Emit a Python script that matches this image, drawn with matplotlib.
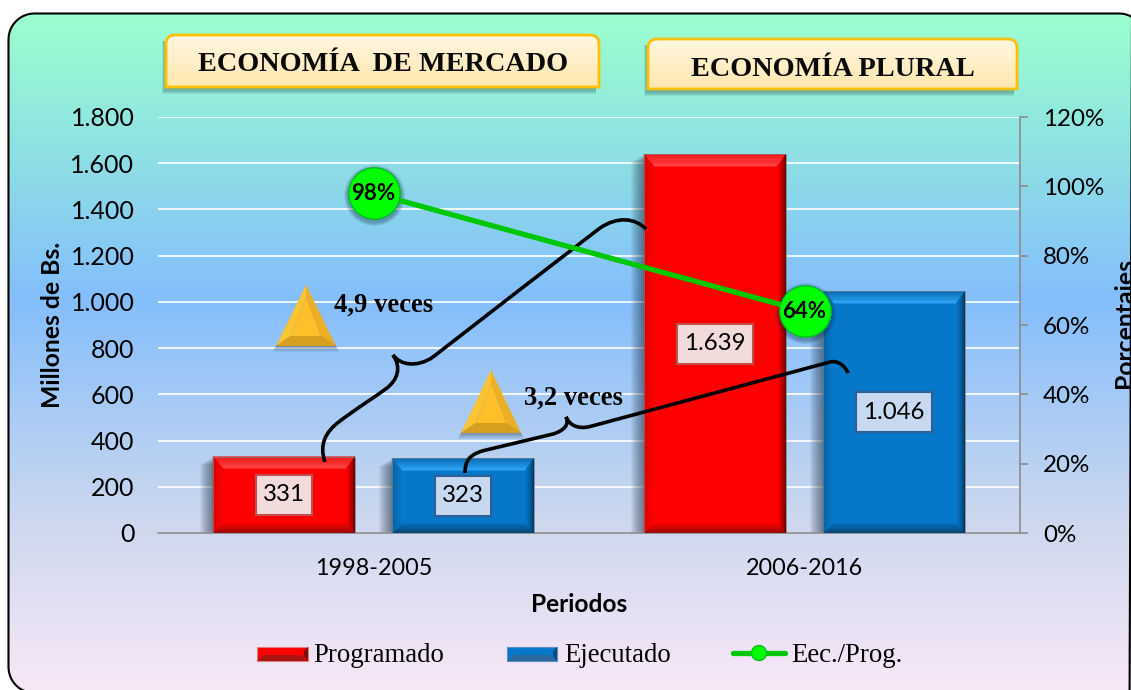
import numpy as np
import matplotlib
matplotlib.use("Agg")
import matplotlib.pyplot as plt
from matplotlib.colors import LinearSegmentedColormap, to_rgb
from matplotlib.patches import PathPatch, Polygon, Rectangle, Circle
from matplotlib.path import Path

# data
periodos = ['1998-2005', '2006-2016']
programado = [331, 1639]
ejecutado = [323, 1046]
porcentaje = [98, 64]
y_ticks = [0, 200, 400, 600, 800, 1000, 1200, 1400, 1600, 1800]
y_labels = ['0', '200', '400', '600', '800', '1.000', '1.200', '1.400', '1.600', '1.800']
pct_ticks = [0, 20, 40, 60, 80, 100, 120]
prog_labels = ['331', '1.639']
ejec_labels = ['323', '1.046']

W, H = 1131, 690
SANS = 'Lato'
SERIF = 'Liberation Serif'

fig = plt.figure(figsize=(W / 100, H / 100), dpi=100, facecolor='white')


def px_axes(zorder):
    a = fig.add_axes([0, 0, 1, 1], zorder=zorder)
    a.set_xlim(0, W)
    a.set_ylim(H, 0)
    a.axis('off')
    return a


def vgrad(a, stops, x0, x1, y0, y1, clip):
    cmap = LinearSegmentedColormap.from_list('g', stops)
    img = a.imshow(np.linspace(0, 1, 256)[:, None], cmap=cmap, aspect='auto',
                   extent=[x0, x1, y1, y0], zorder=clip.get_zorder())
    img.set_clip_path(clip)
    a.set_xlim(0, W)
    a.set_ylim(H, 0)


def round_rect(x0, y0, x1, y1, r):
    # polyline, the curved version of this drew badly past the canvas edge
    pts = []
    for cx, cy, start in [(x0 + r, y0 + r, 180), (x1 - r, y0 + r, 270), (x1 - r, y1 - r, 0), (x0 + r, y1 - r, 90)]:
        ang = np.radians(np.linspace(start, start + 90, 16))
        pts += list(zip(cx + r * np.cos(ang), cy + r * np.sin(ang)))
    return pts


# background panel
bg = px_axes(0)
outline = round_rect(8.5, 13.5, 1145, 693, 26)
clip = Polygon(outline, closed=True, fc='none', ec='none', zorder=1)
bg.add_patch(clip)
vgrad(bg, [(0, '#9CFFCE'), (0.17, '#90E6E0'), (0.42, '#84BEFC'),
           (0.75, '#CDD8EE'), (1, '#F9E8F8')], 8, 1145, 13, 693, clip)
bg.add_patch(Polygon(outline, closed=True, fc='none', ec='black', lw=1.5, zorder=3))

# main axes
ax = fig.add_axes([158 / W, 1 - 533 / H, 862 / W, 416 / H], zorder=1)
ax.patch.set_visible(False)
ax.set_xlim(-0.5, 1.5)
ax.set_ylim(0, 1800)
ax.set_yticks(y_ticks, y_labels, fontsize=18, family=SANS)
ax.set_xticks([0, 1], periodos, fontsize=16.8, family=SANS)
ax.tick_params(axis='y', length=0, pad=17)
ax.tick_params(axis='x', length=0, pad=18)
ax.grid(axis='y', color='white', lw=1.2)
ax.set_axisbelow(True)
for s in ['top', 'left', 'right']:
    ax.spines[s].set_visible(False)
ax.spines['bottom'].set_color('#8C8C8C')
ax.spines['bottom'].set_linewidth(1.2)

xpx = 2 / 862
ypx = 1800 / 416


def mix(c1, c2, t):
    return np.array(to_rgb(c1)) * (1 - t) + np.array(to_rgb(c2)) * t


def bevel_bar(x, v, w, base, edges, inner_top, inner_bot):
    bar = ax.bar(x, v, w, color=base, zorder=3)[0]
    x0, x1 = bar.get_x(), bar.get_x() + bar.get_width()
    y0, y1 = 0, bar.get_height()
    # shadow falls to the left of the bar
    for i in range(13, 0, -1):
        ax.add_patch(Rectangle((x0 - i * xpx, y0), i * xpx + 0.01, y1 - i * ypx * 0.6,
                               fc='#203040', ec='none', alpha=0.05, zorder=2.5))

    def box(t):
        return x0 + t * 10 * xpx, x1 - t * 9 * xpx, y0 + t * 9 * ypx, y1 - t * 12 * ypx

    n = 10
    for i in range(n):
        a0, a1, c0, c1 = box(i / n)
        e0, e1, f0, f1 = box((i + 1) / n)
        t = (i + 1) / n
        top = mix(edges[0], inner_top, t)
        right = mix(edges[1], base, t ** 0.6)
        bot = mix(edges[2], inner_bot, t ** 0.7)
        left = mix(edges[3], base, t)
        ax.add_patch(Polygon([(a0, c1), (a1, c1), (e1, f1), (e0, f1)], fc=top, ec=top, lw=0.2, zorder=3.1))
        ax.add_patch(Polygon([(a1, c1), (a1, c0), (e1, f0), (e1, f1)], fc=right, ec=right, lw=0.2, zorder=3.1))
        ax.add_patch(Polygon([(a0, c0), (a1, c0), (e1, f0), (e0, f0)], fc=bot, ec=bot, lw=0.2, zorder=3.1))
        ax.add_patch(Polygon([(a0, c1), (a0, c0), (e0, f0), (e0, f1)], fc=left, ec=left, lw=0.2, zorder=3.1))
    ax.add_patch(Rectangle((x0, y0), x1 - x0, y1, fc='none', ec='#808080', lw=0.7, alpha=0.7, zorder=3.2))


def value_box(x, v, txt, fc, ec):
    w = (56 if len(txt) == 3 else 76) * xpx
    h = 40 * ypx
    ax.add_patch(Rectangle((x - w / 2, v / 2 - h / 2), w, h, fc=fc, ec=ec, lw=1.5, zorder=4.5))
    ax.text(x, v / 2, txt, ha='center', va='center', fontsize=17.3, family=SANS, zorder=5)


offs = 89.5 / 431
bw = 142 / 431
for i in range(len(periodos)):
    bevel_bar(i - offs, programado[i], bw, '#FF0000',
              ['#F01818', '#200000', '#701010', '#D80000'], '#FF4444', '#E80000')
    bevel_bar(i + offs, ejecutado[i], bw, '#0677C9',
              ['#0568AE', '#001C34', '#07355C', '#04629F'], '#2FA5F7', '#0566AB')
    value_box(i - offs, programado[i], prog_labels[i], '#F2DCDB', '#C0504D')
    value_box(i + offs, ejecutado[i], ejec_labels[i], '#C6D9F1', '#2F5F95')

ax.set_xlabel('Periodos', fontsize=17.6, family=SANS, fontweight='bold', va='center')
ax.xaxis.set_label_coords(421 / 862, -72 / 416)
ax.set_ylabel('Millones de Bs.', fontsize=17.8, family=SANS, fontweight='bold')
ax.yaxis.set_label_coords(-94 / 862, 0.5)

# percentage axis
ax2 = ax.twinx()
ax2.set_zorder(3)
ax2.patch.set_visible(False)
ax2.set_ylim(0, 120)
ax2.set_yticks(pct_ticks, [f'{p}%' for p in pct_ticks], fontsize=17.4, family=SANS)
ax2.tick_params(axis='y', length=6, width=1.2, color='#8C8C8C', pad=10.5)
for s in ['top', 'left', 'bottom']:
    ax2.spines[s].set_visible(False)
ax2.spines['right'].set_color('#8C8C8C')
ax2.spines['right'].set_linewidth(1.2)
ax2.set_ylabel('Porcentajes', fontsize=17.8, family=SANS, fontweight='bold')
ax2.yaxis.set_label_coords(1 + 93 / 862, 0.505)

xs = list(range(len(periodos)))
for i in range(6, 0, -1):
    ax2.plot(xs, [p - 0.55 for p in porcentaje], ls='none', marker='o', ms=38 + i,
             mfc='#103040', mec='none', alpha=0.07, zorder=3)
ax2.plot(xs, porcentaje, color='#00C800', lw=3.8, marker='o', ms=37, mfc='#00FF00',
         mec='#00BE20', mew=1.0, zorder=4)
for x, p in zip(xs, porcentaje):
    ax2.text(x, p, f'{p}%', ha='center', va='center', fontsize=16, family=SANS,
             fontweight='bold', zorder=5)

# overlay: title boxes, triangles, braces, legend
ov = px_axes(2)


def title_box(x0, y0, x1, y1, txt, tx, ty):
    r = 9
    verts = [(x0, y1), (x0, y0 + r), (x0, y0), (x0 + r, y0), (x1 - r, y0), (x1, y0), (x1, y0 + r), (x1, y1), (x0, y1)]
    codes = [Path.MOVETO, Path.LINETO, Path.CURVE3, Path.CURVE3, Path.LINETO, Path.CURVE3, Path.CURVE3,
             Path.LINETO, Path.CLOSEPOLY]
    for i in range(6, 0, -1):
        ov.add_patch(Rectangle((x0 - i * 0.7, y0 + 6), x1 - x0 - 3 + i * 0.7, y1 - y0 - 6 + i * 1.2,
                               fc='#1F4F50', ec='none', alpha=0.1, zorder=1))
    fill = PathPatch(Path(verts, codes), fc='none', ec='none', zorder=2)
    ov.add_patch(fill)
    vgrad(ov, [(0, '#FFF6E2'), (1, '#FFE7AC')], x0, x1, y0, y1, fill)
    ov.add_patch(PathPatch(Path(verts, codes), fc='none', ec='#FFC000', lw=2, zorder=3))
    ov.text(tx, ty, txt, ha='center', va='center', family=SERIF, fontweight='bold',
            fontsize=20.3, color='#0A0A0A', zorder=4)


title_box(166, 35, 599, 87, 'ECONOMÍA  DE MERCADO', 383, 64.5)
title_box(648, 39, 1017, 89, 'ECONOMÍA PLURAL', 833, 70)


def triangle(cx, top, bottom, half):
    left, right = cx - half, cx + half
    inner = [(cx, top + 13), (cx - 15, bottom - 10), (cx + 15, bottom - 10)]
    for i in range(6, 0, -1):
        ov.add_patch(Polygon([(cx, top + 4), (right + i * 0.5, bottom + i), (left - i * 0.5, bottom + i)],
                             fc='#203040', ec='none', alpha=0.07, zorder=1))
    ov.add_patch(Polygon([(cx, top), (left, bottom), inner[1], inner[0]], fc='#FBC433', ec='none', zorder=2))
    ov.add_patch(Polygon([(cx, top), (right, bottom), inner[2], inner[0]], fc='#EDB024', ec='none', zorder=2))
    ov.add_patch(Polygon([(left, bottom), (right, bottom), inner[2], inner[1]], fc='#D89E1E', ec='none', zorder=2))
    ov.add_patch(Polygon(inner, fc='#FDC02A', ec='none', zorder=2.1))


triangle(306, 285, 346, 30)
triangle(491, 370, 433, 30)
ov.text(384, 305, '4,9 veces', ha='center', va='center', family=SERIF, fontweight='bold', fontsize=19.2, zorder=4)
ov.text(573, 398, '3,2 veces', ha='center', va='center', family=SERIF, fontweight='bold', fontsize=19.2, zorder=4)

C4 = Path.CURVE4
brace1 = Path([(325, 462), (319, 445), (325, 432), (340, 421),
               (360, 406), (375, 397), (387, 388), (397, 380), (402, 368), (393, 355),
               (400, 365), (417, 368), (433, 357),
               (490, 313), (545, 270), (600, 228), (618, 216), (635, 218), (646, 229)],
              [Path.MOVETO, C4, C4, Path.LINETO, C4, C4, C4, C4, C4, C4, C4, C4, C4,
               C4, C4, C4, C4, C4, C4])
brace2 = Path([(465, 473), (465, 460), (470, 455), (482, 451),
               (553, 434), (563, 431), (570, 425), (566, 417), (571, 428), (582, 429), (592, 426),
               (830, 362), (838, 360), (845, 366), (848, 373)],
              [Path.MOVETO, C4, C4, C4, Path.LINETO, C4, C4, C4, C4, C4, C4, Path.LINETO, C4, C4, C4])
for p in [brace1, brace2]:
    ov.add_patch(PathPatch(p, fc='none', ec='black', lw=2.6, capstyle='butt', zorder=3))

# legend
for x0, x1, base, bot, side, rim in [(257, 308, '#FF0000', '#A81414', '#7A1010', '#E08080'),
                                     (507, 557, '#0677C9', '#2A6A9E', '#0D4C80', '#5A8FC0')]:
    ov.add_patch(Rectangle((x0, 647), x1 - x0, 14, fc=base, ec=rim, lw=0.8, zorder=3))
    ov.add_patch(Polygon([(x0, 661), (x1, 661), (x1 - 7, 655), (x0 + 7, 655)], fc=bot, ec='none', zorder=3.1))
    ov.add_patch(Polygon([(x1, 647), (x1, 661), (x1 - 4, 656), (x1 - 4, 651)], fc=side, ec='none', zorder=3.1))
ov.plot([733, 785], [653, 653], color='#00C800', lw=3.8, solid_capstyle='round', zorder=3)
ov.add_patch(Circle((759, 653), 7.5, fc='#00FF00', ec='#00BE20', lw=1, zorder=3.1))
for x, txt in [(313, 'Programado'), (564, 'Ejecutado'), (791, 'Eec./Prog.')]:
    ov.text(x, 655.5, txt, ha='left', va='center', family=SERIF, fontsize=19.3, zorder=4)

fig.savefig('out.png', dpi=100, facecolor='white')
